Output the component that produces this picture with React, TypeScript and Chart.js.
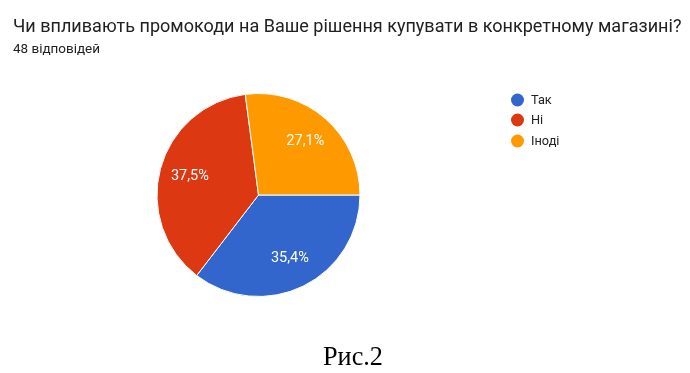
import React, { useEffect, useRef } from "react";
import { Chart, registerables } from "chart.js";

Chart.register(...registerables);

const title = "Чи впливають промокоди на Ваше рішення купувати в конкретному магазині?";
const subtitle = "48 відповідей";
const caption = "Рис.2";
const categories = ["Так", "Ні", "Іноді"];
const counts = [17, 18, 13];
const colors = ["#3366cc", "#dc3912", "#ff9900"];

function fitFont(ctx: CanvasRenderingContext2D, text: string, family: string, target: number, weight = "") {
  ctx.font = `${weight} 20px ${family}`;
  const w = ctx.measureText(text).width;
  const size = (20 * target) / w;
  ctx.font = `${weight} ${size.toFixed(2)}px ${family}`;
}

const textPlugin = {
  id: "textPlugin",
  afterDatasetsDraw(chart: any) {
    const ctx = chart.ctx as CanvasRenderingContext2D;
    const total = counts.reduce((a, b) => a + b, 0);
    ctx.save();
    // slice labels
    const meta = chart.getDatasetMeta(0);
    ctx.fillStyle = "#ffffff";
    fitFont(ctx, "27,1%", "Roboto", 38);
    ctx.textAlign = "center";
    ctx.textBaseline = "middle";
    meta.data.forEach((arc: any, i: number) => {
      const p = arc.getProps(["x", "y", "startAngle", "endAngle", "outerRadius"], true);
      const mid = (p.startAngle + p.endAngle) / 2;
      const r = p.outerRadius * 0.7;
      const pct = ((counts[i] / total) * 100).toFixed(1).replace(".", ",") + "%";
      ctx.fillText(pct, p.x + Math.cos(mid) * r, p.y + Math.sin(mid) * r);
    });
    // title
    ctx.textAlign = "left";
    ctx.textBaseline = "alphabetic";
    ctx.fillStyle = "#212121";
    fitFont(ctx, title, "Roboto", 669);
    ctx.fillText(title, 13, 32);
    fitFont(ctx, subtitle, "Roboto", 87);
    ctx.fillText(subtitle, 13, 53);
    // legend
    const ys = [100, 120, 141];
    categories.forEach((c, i) => {
      ctx.beginPath();
      ctx.fillStyle = colors[i];
      ctx.arc(517.5, ys[i], 6.5, 0, Math.PI * 2);
      ctx.fill();
      ctx.fillStyle = "#222222";
      fitFont(ctx, "Іноді", "Roboto", 28.5);
      ctx.textBaseline = "middle";
      ctx.fillText(c, 531, ys[i] + 1);
    });
    // caption
    ctx.fillStyle = "#000000";
    fitFont(ctx, caption, "'Liberation Serif', 'Times New Roman', serif", 60);
    ctx.textAlign = "center";
    ctx.textBaseline = "alphabetic";
    ctx.fillText(caption, 353, 365);
    ctx.restore();
  },
};

export default function App() {
  const ref = useRef<HTMLCanvasElement>(null);
  useEffect(() => {
    const chart = new Chart(ref.current as HTMLCanvasElement, {
      type: "pie",
      data: {
        labels: categories,
        datasets: [
          {
            data: counts,
            backgroundColor: colors,
            borderColor: "#ffffff",
            borderWidth: 1,
          },
        ],
      },
      options: {
        animation: false,
        responsive: false,
        rotation: 90,
        layout: { padding: { left: 156.5, right: 329.5, top: 93, bottom: 76 } },
        plugins: {
          legend: { display: false },
          title: { display: false },
          tooltip: { enabled: false },
        },
      },
      plugins: [textPlugin],
    });
    return () => chart.destroy();
  }, []);
  return (
    <div style={{ position: "absolute", left: 0, top: 0, width: 690, height: 373, background: "#ffffff" }}>
      <canvas ref={ref} width={690} height={373} />
    </div>
  );
}
